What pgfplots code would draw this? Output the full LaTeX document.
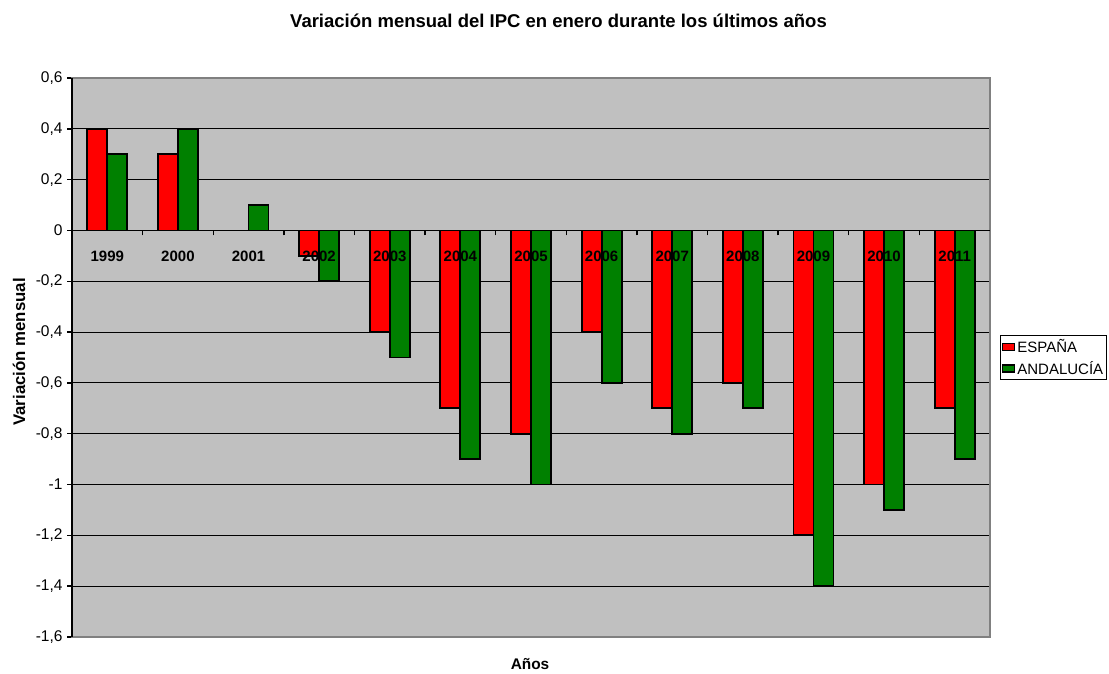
\documentclass[border=0pt]{standalone}
\usepackage{fontspec}
\setmainfont{Liberation Sans}
\usepackage{pgfplots}
\pgfplotsset{compat=1.18}
\definecolor{barred}{RGB}{255,0,0}
\definecolor{bargreen}{RGB}{0,128,0}
\definecolor{plotgray}{RGB}{192,192,192}
\definecolor{bordergray}{RGB}{128,128,128}
\pgfplotstableread{
idx esp and
0 0.4 0.3
1 0.3 0.4
2 0.0 0.1
3 -0.1 -0.2
4 -0.4 -0.5
5 -0.7 -0.9
6 -0.8 -1.0
7 -0.4 -0.6
8 -0.7 -0.8
9 -0.6 -0.7
10 -1.2 -1.4
11 -1.0 -1.1
12 -0.7 -0.9
}\datatable
\pgfplotsset{
  commongeom/.style={
    at={(72pt,36pt)}, anchor=south west,
    width=918pt, height=559pt, scale only axis,
    xmin=-0.5, xmax=12.5, ymin=-1.6, ymax=0.6,
    axis x line*=middle, axis y line*=left,
    axis line style={black, line width=1.6pt},
  }
}
\begin{document}
\begin{tikzpicture}
\path (0,0) rectangle (1109pt,673pt);
% axis 1: background, grid, bars, y ticks, legend
\begin{axis}[
  commongeom,
  ybar=0pt, bar width=20pt,
  axis background/.style={fill=plotgray},
  ytick={-1.6,-1.4,-1.2,-1,-0.8,-0.6,-0.4,-0.2,0,0.2,0.4,0.6},
  yticklabels={{-1,6},{-1,4},{-1,2},{-1},{-0,8},{-0,6},{-0,4},{-0,2},{0},{0,2},{0,4},{0,6}},
  xtick={0,...,12},
  xticklabels={},
  minor xtick={0.5,1.5,...,11.5},
  every major x tick/.append style={draw=none},
  tick align=outside,
  major tick length=5pt, minor tick length=5pt,
  tick style={black, line width=1.4pt},
  ymajorgrids, grid style={black, line width=1.1pt},
  yticklabel style={font=\fontsize{15.5}{17}\selectfont, xshift=-1pt},
  legend style={at={(1,0.5)}, anchor=west, xshift=10pt, draw=black, line width=1pt,
    font=\fontsize{15}{17}\selectfont, inner sep=1.5pt, row sep=3pt,
    legend cell align=left},
  legend image code/.code={\draw[#1, line width=1.4pt] (0pt,-3.5pt) rectangle (12pt,3.5pt);},
]
\addplot[ybar, fill=barred, draw=black, line width=1.8pt] table[x=idx, y=esp] {\datatable};
\addplot[ybar, fill=bargreen, draw=black, line width=1.8pt] table[x=idx, y=and] {\datatable};
\legend{ESPAÑA, ANDALUCÍA}
\end{axis}
% axis 2: border, axis lines and x tick labels on top of the bars
\begin{axis}[
  commongeom,
  axis background/.style={draw=bordergray, line width=1.8pt},
  ytick=\empty,
  xtick={0,...,12},
  xticklabels={1999,2000,2001,2002,2003,2004,2005,2006,2007,2008,2009,2010,2011},
  major tick length=0pt,
  tick style={draw=none},
  xticklabel style={font=\fontsize{15}{17}\selectfont\bfseries, yshift=-17pt},
]
\end{axis}
\node[font=\fontsize{18.5}{21}\selectfont\bfseries] at (558.5pt,652pt) {Variación mensual del IPC en enero durante los últimos años};
\node[font=\fontsize{16.8}{19}\selectfont\bfseries, rotate=90] at (19pt,321pt) {Variación mensual};
\node[font=\fontsize{15.4}{17}\selectfont\bfseries] at (530pt,9pt) {Años};
\end{tikzpicture}
\end{document}
